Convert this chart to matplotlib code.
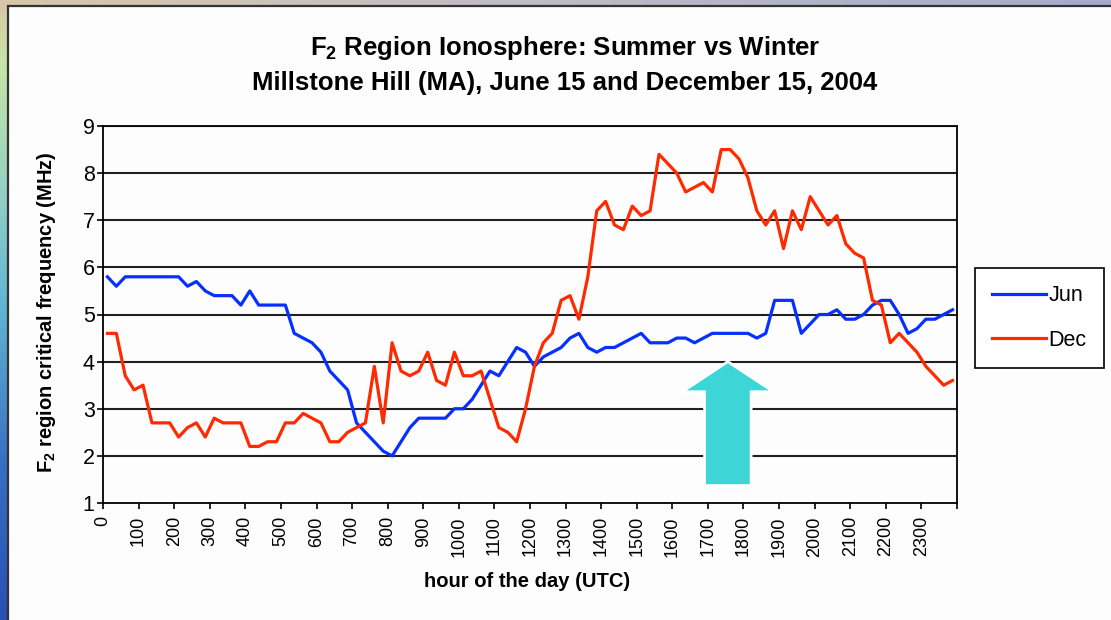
import numpy as np
import matplotlib
matplotlib.use("Agg")
import matplotlib.pyplot as plt
from matplotlib.patches import Rectangle, FancyArrow
from matplotlib.lines import Line2D

plt.rcParams['font.family'] = ['Liberation Sans', 'DejaVu Sans']
plt.rcParams['mathtext.fontset'] = 'custom'
plt.rcParams['mathtext.rm'] = 'Liberation Sans:bold'
plt.rcParams['mathtext.bf'] = 'Liberation Sans:bold'

# 15 minute samples, 96 per day
jun = [5.8, 5.6, 5.8, 5.8, 5.8, 5.8, 5.8, 5.8, 5.8, 5.6,
       5.7, 5.5, 5.4, 5.4, 5.4, 5.2, 5.5, 5.2, 5.2, 5.2,
       5.2, 4.6, 4.5, 4.4, 4.2, 3.8, 3.6, 3.4, 2.7, 2.5,
       2.3, 2.1, 2.0, 2.3, 2.6, 2.8, 2.8, 2.8, 2.8, 3.0,
       3.0, 3.2, 3.5, 3.8, 3.7, 4.0, 4.3, 4.2, 3.9, 4.1,
       4.2, 4.3, 4.5, 4.6, 4.3, 4.2, 4.3, 4.3, 4.4, 4.5,
       4.6, 4.4, 4.4, 4.4, 4.5, 4.5, 4.4, 4.5, 4.6, 4.6,
       4.6, 4.6, 4.6, 4.5, 4.6, 5.3, 5.3, 5.3, 4.6, 4.8,
       5.0, 5.0, 5.1, 4.9, 4.9, 5.0, 5.2, 5.3, 5.3, 5.0,
       4.6, 4.7, 4.9, 4.9, 5.0, 5.1]
dec = [4.6, 4.6, 3.7, 3.4, 3.5, 2.7, 2.7, 2.7, 2.4, 2.6,
       2.7, 2.4, 2.8, 2.7, 2.7, 2.7, 2.2, 2.2, 2.3, 2.3,
       2.7, 2.7, 2.9, 2.8, 2.7, 2.3, 2.3, 2.5, 2.6, 2.7,
       3.9, 2.7, 4.4, 3.8, 3.7, 3.8, 4.2, 3.6, 3.5, 4.2,
       3.7, 3.7, 3.8, 3.2, 2.6, 2.5, 2.3, 3.0, 3.9, 4.4,
       4.6, 5.3, 5.4, 4.9, 5.8, 7.2, 7.4, 6.9, 6.8, 7.3,
       7.1, 7.2, 8.4, 8.2, 8.0, 7.6, 7.7, 7.8, 7.6, 8.5,
       8.5, 8.3, 7.9, 7.2, 6.9, 7.2, 6.4, 7.2, 6.8, 7.5,
       7.2, 6.9, 7.1, 6.5, 6.3, 6.2, 5.3, 5.2, 4.4, 4.6,
       4.4, 4.2, 3.9, 3.7, 3.5, 3.6]
hour_labels = ['0', '100', '200', '300', '400', '500', '600', '700', '800',
               '900', '1000', '1100', '1200', '1300', '1400', '1500', '1600',
               '1700', '1800', '1900', '2000', '2100', '2200', '2300']

W, H = 1111, 620
fig = plt.figure(figsize=(W / 100, H / 100), dpi=100)

# slide background behind the chart panel
bg = fig.add_axes([0, 0, 1, 1], zorder=-5)
bg.set_axis_off()
yy = np.linspace(0, 1, H)
xx = np.linspace(0, 1, W)
left_stops = [0.0, 0.1, 0.3, 0.5, 0.75, 1.0]
left_cols = np.array([[216, 200, 168], [200, 228, 165], [150, 210, 195],
                      [95, 180, 210], [55, 110, 195], [40, 80, 180]]) / 255
top_stops = [0.0, 0.4, 1.0]
top_cols = np.array([[216, 200, 168], [195, 190, 195], [165, 170, 205]]) / 255
left = np.stack([np.interp(yy, left_stops, left_cols[:, c]) for c in range(3)], axis=1)
top = np.stack([np.interp(xx, top_stops, top_cols[:, c]) for c in range(3)], axis=1)
img = np.where((np.arange(H)[:, None, None] < 10), top[None, :, :], left[:, None, :])
bg.imshow(img, extent=[0, 1, 0, 1], aspect='auto', origin='upper')
bg.add_patch(Rectangle((8 / W, -0.01), 1.0, 1 - 6 / H + 0.01, transform=bg.transAxes,
                       facecolor='#fdfdfd', edgecolor='#333333', lw=1.6))
bg.set_xlim(0, 1)
bg.set_ylim(0, 1)

ax = fig.add_axes([103 / W, 1 - 503 / H, (957 - 103) / W, (503 - 126) / H])
ax.set_facecolor('#fdfdfd')

x = np.arange(len(jun)) * 0.25 + 0.125
ax.plot(x, jun, color='#0630ff', lw=2.3, label='Jun', zorder=3)
ax.plot(x, dec, color='#ff2a00', lw=2.3, label='Dec', zorder=3)

ax.set_xlim(0, 24)
ax.set_ylim(1, 9)
ax.set_yticks(range(1, 10))
ax.set_xticks(range(25))
ax.set_xticklabels(hour_labels + [''], rotation=90)
for v in range(2, 10):
    ax.axhline(v, color='#202020', lw=1.5, zorder=1)
for s in ax.spines.values():
    s.set_color('black')
    s.set_linewidth(1.3)
ax.tick_params(axis='y', direction='out', length=4.5, width=1.2, pad=1.5,
               labelsize=15.5)
ax.tick_params(axis='x', direction='out', length=4.0, width=1.2, pad=5.5,
               labelsize=13)

ax.add_patch(FancyArrow(17.56, 1.37, 0, 2.63, width=1.31, head_width=2.57,
                        head_length=0.64, length_includes_head=True,
                        facecolor='#3dd5d5', edgecolor='white', lw=2, zorder=4))

fig.text(565 / W, 1 - 55 / H, 'F$_2$ Region Ionosphere: Summer vs Winter',
         ha='center', va='baseline', fontsize=18.5, fontweight='bold')
fig.text(565 / W, 1 - 90 / H, 'Millstone Hill (MA), June 15 and December 15, 2004',
         ha='center', va='baseline', fontsize=18.5, fontweight='bold')
fig.text(47 / W, 1 - 312 / H, 'F$_2$ region critical frequency (MHz)', rotation=90,
         ha='center', va='center', fontsize=14.5, fontweight='bold')
fig.text(527 / W, 1 - 587 / H, 'hour of the day (UTC)', ha='center',
         va='baseline', fontsize=14.5, fontweight='bold')

leg = ax.legend(loc='upper left', bbox_to_anchor=(975 / W, 1 - 268 / H),
                bbox_transform=fig.transFigure, borderaxespad=0, fontsize=15.5,
                frameon=True, fancybox=False, edgecolor='black', framealpha=1,
                handlelength=2.5, handletextpad=0.1, labelspacing=1.1,
                borderpad=0.8)
leg.get_frame().set_linewidth(1.2)

fig.savefig('out.png', dpi=100)
